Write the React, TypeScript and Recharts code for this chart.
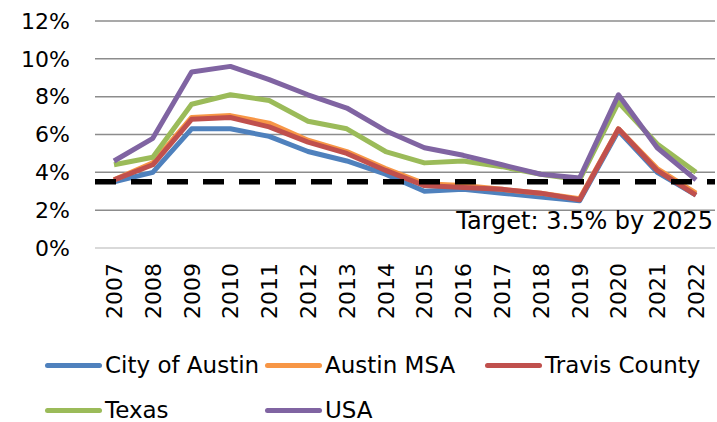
import { LineChart, Line, XAxis, YAxis, CartesianGrid, ReferenceLine, Legend } from "recharts";

const years = ["2007", "2008", "2009", "2010", "2011", "2012", "2013", "2014", "2015", "2016", "2017", "2018", "2019", "2020", "2021", "2022"];
const cityOfAustin = [3.5, 4.0, 6.3, 6.3, 5.9, 5.1, 4.6, 3.9, 3.0, 3.1, 2.9, 2.7, 2.5, 6.2, 4.0, 2.8];
const austinMsa = [3.6, 4.5, 6.9, 7.0, 6.6, 5.7, 5.1, 4.2, 3.4, 3.3, 3.1, 2.9, 2.6, 6.3, 4.2, 2.9];
const travisCounty = [3.6, 4.4, 6.8, 6.9, 6.4, 5.6, 5.0, 4.1, 3.3, 3.2, 3.1, 2.9, 2.55, 6.3, 4.1, 2.8];
const texas = [4.4, 4.8, 7.6, 8.1, 7.8, 6.7, 6.3, 5.1, 4.5, 4.6, 4.3, 3.9, 3.6, 7.7, 5.5, 4.0];
const usa = [4.6, 5.8, 9.3, 9.6, 8.9, 8.1, 7.4, 6.2, 5.3, 4.9, 4.4, 3.9, 3.7, 8.1, 5.3, 3.6];
const yTicks = [0, 2, 4, 6, 8, 10, 12];
const target = 3.5;
const targetText = "Target: 3.5% by 2025";

const FONT = "'DejaVu Sans', sans-serif";

const series = [
  { key: "city", name: "City of Austin", color: "#4F81BD", values: cityOfAustin },
  { key: "msa", name: "Austin MSA", color: "#F79646", values: austinMsa },
  { key: "travis", name: "Travis County", color: "#C0504D", values: travisCounty },
  { key: "texas", name: "Texas", color: "#9BBB59", values: texas },
  { key: "usa", name: "USA", color: "#8064A2", values: usa },
];

const data = years.map((year, i) => {
  const row: Record<string, string | number> = { year };
  series.forEach((s) => (row[s.key] = s.values[i]));
  return row;
});

function YearTick({ x, y, payload }: { x?: number; y?: number; payload?: { value: string } }) {
  const tx = (x ?? 0) + 8;
  const ty = (y ?? 0) + 7;
  return (
    <text x={tx} y={ty} transform={`rotate(-90, ${tx}, ${ty})`} textAnchor="end" fill="#000" fontSize={22} fontFamily={FONT}>
      {payload?.value}
    </text>
  );
}

function TargetLabel({ viewBox }: { viewBox?: { x: number; y: number; width: number } }) {
  if (!viewBox) return null;
  return (
    <text x={viewBox.x + viewBox.width - 2} y={viewBox.y + 47} textAnchor="end" fill="#000" fontSize={24} fontFamily={FONT}>
      {targetText}
    </text>
  );
}

const legendCols = [45, 265, 485];

function LegendBox() {
  const rows = [series.slice(0, 3), series.slice(3)];
  return (
    <div style={{ position: "relative", height: 80, width: 717, fontFamily: FONT, fontSize: 23, color: "#000" }}>
      {rows.map((row, r) =>
        row.map((s, c) => (
          <div
            key={s.key}
            style={{
              position: "absolute",
              left: legendCols[c],
              top: 23 + r * 45 - 12,
              height: 24,
              lineHeight: "24px",
              display: "flex",
              alignItems: "center",
              whiteSpace: "nowrap",
            }}
          >
            <span style={{ display: "inline-block", width: 57, height: 5, borderRadius: 3, background: s.color, marginRight: 3 }} />
            <span>{s.name}</span>
          </div>
        ))
      )}
    </div>
  );
}

export default function App() {
  return (
    <div style={{ position: "absolute", left: 0, top: 0, width: 717, height: 422, background: "#fff" }}>
      <LineChart width={717} height={422} data={data} margin={{ top: 21, right: 2, left: 0, bottom: 0 }}>
        <CartesianGrid vertical={false} stroke="#8c8c8c" strokeWidth={1.5} />
        <XAxis
          dataKey="year"
          interval={0}
          height={94}
          padding={{ left: 19, right: 19 }}
          tick={<YearTick />}
          tickLine={false}
          axisLine={{ stroke: "#d9d9d9", strokeWidth: 2 }}
        />
        <YAxis
          domain={[0, 12]}
          ticks={yTicks}
          width={95}
          axisLine={false}
          tickLine={false}
          tickMargin={19}
          tickFormatter={(v: number) => `${v}%`}
          tick={{ fill: "#000", fontSize: 22, fontFamily: FONT }}
        />
        <Legend verticalAlign="bottom" content={() => <LegendBox />} wrapperStyle={{ left: 0, width: 717 }} />
        {series.map((s) => (
          <Line
            key={s.key}
            dataKey={s.key}
            name={s.name}
            stroke={s.color}
            strokeWidth={5}
            strokeLinejoin="round"
            dot={false}
            isAnimationActive={false}
          />
        ))}
        <ReferenceLine y={target} stroke="#000" strokeWidth={5.5} strokeDasharray="21 15" label={<TargetLabel />} />
      </LineChart>
    </div>
  );
}
